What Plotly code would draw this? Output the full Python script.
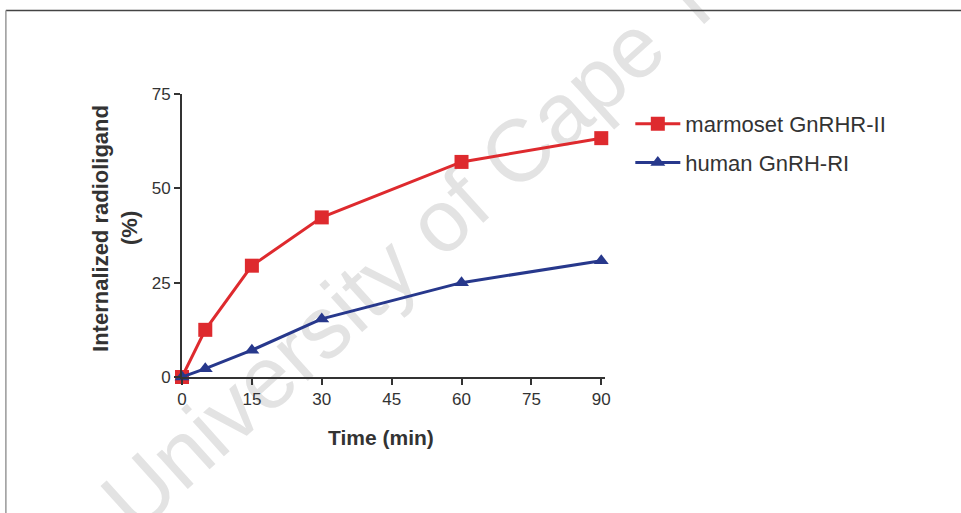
import plotly.graph_objects as go

time_min = [0, 5, 15, 30, 60, 90]
marmoset = [0, 12.5, 29.5, 42.3, 57.0, 63.3]
human = [0, 2.2, 7.1, 15.4, 25.0, 30.8]
x_ticks = [0, 15, 30, 45, 60, 75, 90]
y_ticks = [0, 25, 50, 75]

RED = "#de2a2e"
BLUE = "#27388c"
AX = "#333333"
FONT = "Liberation Sans, Arial, sans-serif"

fig = go.Figure()
fig.add_trace(go.Scatter(
    x=time_min, y=marmoset, mode="lines+markers", name="marmoset GnRHR-II",
    line=dict(color=RED, width=3),
    marker=dict(symbol="square", size=14, color=RED),
    cliponaxis=False, legendgroup="a"))
fig.add_trace(go.Scatter(
    x=time_min, y=human, mode="lines+markers", name="human GnRH-RI",
    line=dict(color=BLUE, width=3),
    marker=dict(symbol="triangle-up", size=13, color=BLUE),
    cliponaxis=False, legendgroup="b"))

W, H = 961, 513
L, R, T, B = 182, 604.7, 94, 377
pw, ph = R - L, B - T

def px(xp):
    return (xp - L) / pw

def py(yp):
    return (B - yp) / ph

axis_common = dict(showgrid=False, zeroline=False, showline=True, linecolor=AX,
                   linewidth=2, ticks="outside", ticklen=6, tickwidth=1.5,
                   tickcolor=AX, tickfont=dict(size=17, color=AX, family=FONT))

fig.update_layout(
    width=W, height=H,
    margin=dict(l=L, r=W - R, t=T, b=H - B),
    paper_bgcolor="white", plot_bgcolor="white",
    font=dict(family=FONT, color=AX),
    showlegend=True,
    legend=dict(x=px(630), y=py(103), xanchor="left", yanchor="top",
                font=dict(size=22, color=AX, family=FONT), traceorder="grouped",
                tracegroupgap=7, itemwidth=45, bgcolor="rgba(0,0,0,0)"),
    xaxis=dict(range=[0, 90.8], tickmode="array", tickvals=x_ticks, **axis_common),
    yaxis=dict(range=[0, 75], tickmode="array", tickvals=y_ticks, **axis_common),
    annotations=[
        dict(text="<b>Time (min)</b>", xref="paper", yref="paper",
             x=px(381), y=py(437), xanchor="center", yanchor="middle",
             showarrow=False, font=dict(size=21, color=AX, family=FONT)),
        dict(text="<b>Internalized radioligand</b>", xref="paper", yref="paper",
             x=px(100), y=py(228), xanchor="center", yanchor="middle",
             textangle=-90, showarrow=False,
             font=dict(size=22, color=AX, family=FONT)),
        dict(text="<b>(%)</b>", xref="paper", yref="paper",
             x=px(129), y=py(228), xanchor="center", yanchor="middle",
             textangle=-90, showarrow=False,
             font=dict(size=22, color=AX, family=FONT)),
    ],
    shapes=[
        dict(type="rect", xref="paper", yref="paper", layer="below",
             x0=px(462), x1=px(462), y0=py(190), y1=py(190),
             line=dict(width=0), fillcolor="rgba(0,0,0,0)",
             label=dict(text="University of Cape Town", textangle=-42,
                        textposition="middle center",
                        font=dict(size=88, color="#e3e3e3", family=FONT))),
        dict(type="line", xref="paper", yref="paper", x0=px(6), x1=px(961),
             y0=py(10.5), y1=py(10.5), line=dict(color="#444444", width=1.5)),
        dict(type="line", xref="paper", yref="paper", x0=px(6), x1=px(6),
             y0=py(10.5), y1=py(513), line=dict(color="#999999", width=1.5)),
    ],
)

fig.write_html("out.html", config={"displayModeBar": False})

with open("out.html", "r", encoding="utf-8") as f:
    html = f.read()
html = html.replace("<body>", '<body style="margin:0;padding:0;overflow:hidden">', 1)
with open("out.html", "w", encoding="utf-8") as f:
    f.write(html)
